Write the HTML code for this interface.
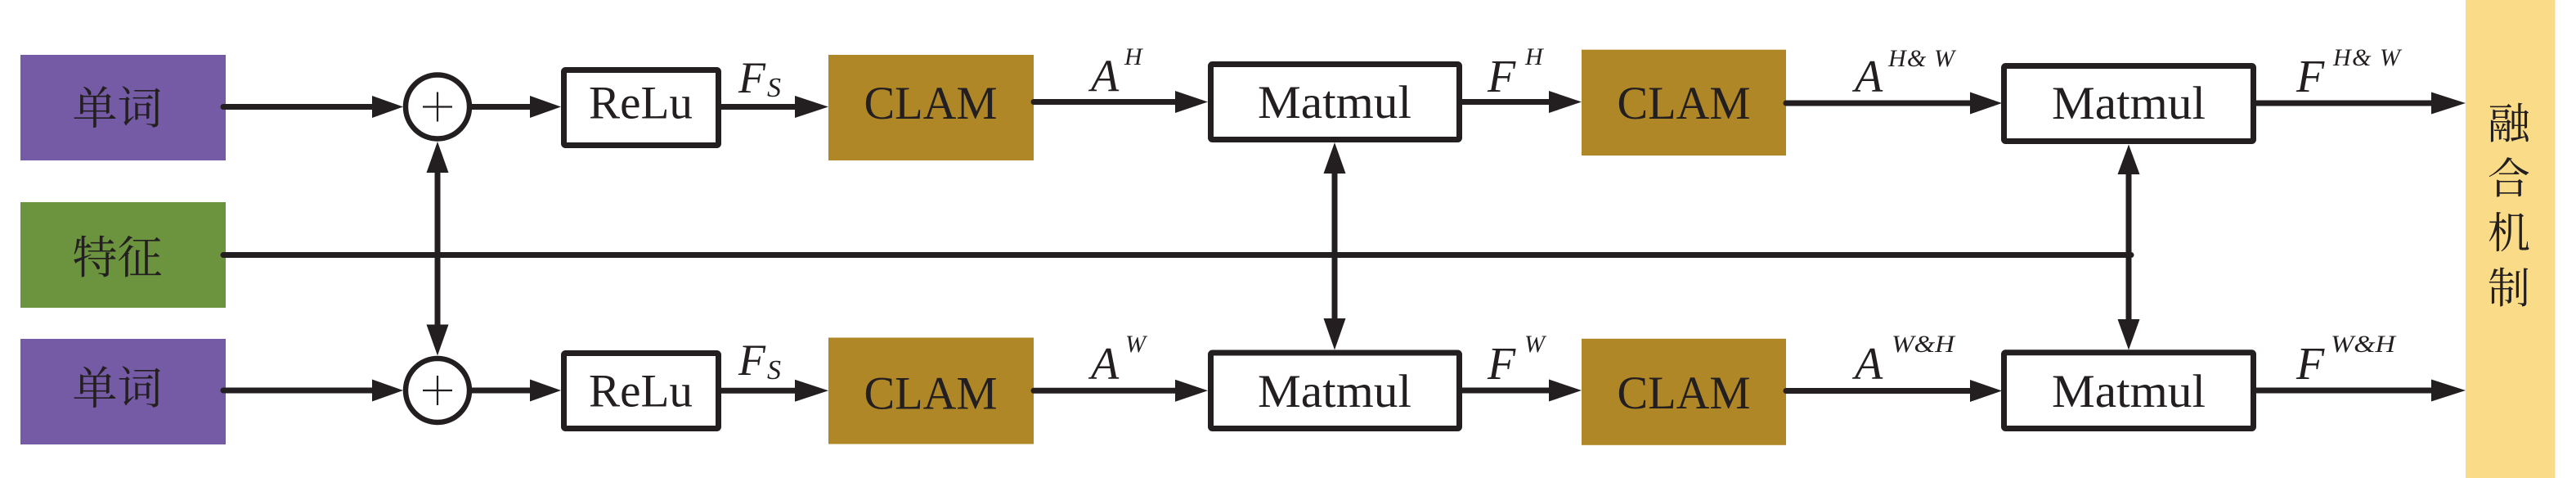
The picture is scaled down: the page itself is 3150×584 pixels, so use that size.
<!DOCTYPE html>
<html>
<head>
<meta charset="utf-8">
<style>
  html,body{margin:0;padding:0;background:#fff;}
  svg{display:block;}
  .cjk{font-family:"Liberation Serif","Noto Serif CJK SC","Noto Sans CJK SC",serif;fill:#231F20;}
  .rm{font-family:"Liberation Serif",serif;fill:#231F20;}
  .it{font-family:"Liberation Serif",serif;font-style:italic;fill:#231F20;}
</style>
</head>
<body>
<svg width="3150" height="584" viewBox="0 0 3150 584" xmlns="http://www.w3.org/2000/svg">
  <rect x="0" y="0" width="3150" height="584" fill="#fff"/>

  <!-- Left input boxes -->
  <rect x="25" y="67" width="251" height="129" fill="#755BA5"/>
  <rect x="25" y="247" width="251" height="129" fill="#6C943F"/>
  <rect x="25" y="414" width="251" height="129" fill="#755BA5"/>
  <text class="cjk" x="143.5" y="133" font-size="55" text-anchor="middle" dominant-baseline="central">单词</text>
  <text class="cjk" x="143.5" y="315.5" font-size="55" text-anchor="middle" dominant-baseline="central">特征</text>
  <text class="cjk" x="143.5" y="475" font-size="55" text-anchor="middle" dominant-baseline="central">单词</text>

  <!-- Fusion box -->
  <rect x="3015" y="0" width="109.5" height="584" fill="#FADB88"/>
  <g class="cjk" font-size="52" text-anchor="middle" dominant-baseline="central">
    <text x="3068" y="153">融</text>
    <text x="3068" y="220">合</text>
    <text x="3068" y="286.5">机</text>
    <text x="3068" y="354">制</text>
  </g>

  <!-- CLAM boxes -->
  <rect x="1013" y="67" width="251" height="129" fill="#B08727"/>
  <rect x="1013" y="412.5" width="251" height="130" fill="#B08727"/>
  <rect x="1934" y="60.7" width="250" height="129.3" fill="#B08727"/>
  <rect x="1934" y="413.8" width="250" height="130" fill="#B08727"/>
  <g class="rm" font-size="57" text-anchor="middle">
    <text x="1138" y="145" textLength="163" lengthAdjust="spacingAndGlyphs">CLAM</text>
    <text x="1138" y="499.5" textLength="163" lengthAdjust="spacingAndGlyphs">CLAM</text>
    <text x="2059" y="145" textLength="163" lengthAdjust="spacingAndGlyphs">CLAM</text>
    <text x="2059" y="499" textLength="163" lengthAdjust="spacingAndGlyphs">CLAM</text>
  </g>

  <!-- White boxes -->
  <g fill="#fff" stroke="#231F20" stroke-width="7">
    <rect x="689.5" y="85.5" width="189" height="92" rx="2"/>
    <rect x="689.5" y="431.5" width="189" height="92" rx="2"/>
    <rect x="1480.5" y="78.5" width="304" height="92" rx="2"/>
    <rect x="1480.5" y="431" width="304" height="92.5" rx="2"/>
    <rect x="2450.5" y="80.5" width="305" height="92" rx="2"/>
    <rect x="2450.5" y="430.8" width="305" height="92.7" rx="2"/>
  </g>
  <g class="rm" font-size="57" text-anchor="middle">
    <text x="783.5" y="144.5" textLength="127" lengthAdjust="spacingAndGlyphs">ReLu</text>
    <text x="783.5" y="496.5" textLength="127" lengthAdjust="spacingAndGlyphs">ReLu</text>
    <text x="1632" y="144" textLength="188" lengthAdjust="spacingAndGlyphs">Matmul</text>
    <text x="1632" y="497" textLength="188" lengthAdjust="spacingAndGlyphs">Matmul</text>
    <text x="2603" y="145" textLength="188" lengthAdjust="spacingAndGlyphs">Matmul</text>
    <text x="2603" y="497" textLength="188" lengthAdjust="spacingAndGlyphs">Matmul</text>
  </g>

  <!-- Sum circles -->
  <g fill="#fff" stroke="#231F20" stroke-width="6.5">
    <circle cx="535" cy="130.5" r="39"/>
    <circle cx="535" cy="477" r="39"/>
  </g>
  <g stroke="#231F20" stroke-width="2.2">
    <line x1="517" y1="130.5" x2="553" y2="130.5"/>
    <line x1="535" y1="112.5" x2="535" y2="148.5"/>
    <line x1="517" y1="477" x2="553" y2="477"/>
    <line x1="535" y1="459" x2="535" y2="495"/>
  </g>

  <!-- Connector lines -->
  <g stroke="#231F20" stroke-width="7" stroke-linecap="round" fill="none">
    <!-- top row -->
    <line x1="273" y1="130.5" x2="458" y2="130.5"/>
    <line x1="577" y1="130.5" x2="650" y2="130.5"/>
    <line x1="882" y1="130.5" x2="975" y2="130.5"/>
    <line x1="1264" y1="124.5" x2="1439" y2="124.5"/>
    <line x1="1787" y1="124.5" x2="1896" y2="124.5"/>
    <line x1="2184" y1="126" x2="2410" y2="126"/>
    <line x1="2759" y1="126" x2="2977" y2="126"/>
    <!-- bottom row -->
    <line x1="273" y1="477" x2="458" y2="477"/>
    <line x1="577" y1="477" x2="650" y2="477"/>
    <line x1="882" y1="477.3" x2="975" y2="477.3"/>
    <line x1="1264" y1="477.3" x2="1439" y2="477.3"/>
    <line x1="1787" y1="477" x2="1896" y2="477"/>
    <line x1="2184" y1="477.5" x2="2410" y2="477.5"/>
    <line x1="2759" y1="477" x2="2977" y2="477"/>
  </g>
  <g stroke="#231F20" stroke-width="7" fill="none">
    <!-- middle feature line -->
    <line x1="273" y1="311.5" x2="2606" y2="311.5" stroke-linecap="round"/>
    <!-- verticals -->
    <line x1="535" y1="208" x2="535" y2="399"/>
    <line x1="1632" y1="209" x2="1632" y2="392"/>
    <line x1="2603" y1="210" x2="2603" y2="393"/>
  </g>

  <!-- Arrowheads -->
  <g fill="#231F20">
    <!-- right-pointing, top row -->
    <polygon points="493,130.5 455,117 455,144"/>
    <polygon points="686,130.5 648,117 648,144"/>
    <polygon points="1013,130.5 972,117 972,144"/>
    <polygon points="1477,124.5 1437,111 1437,138"/>
    <polygon points="1934,124.5 1894,111 1894,138"/>
    <polygon points="2448,126 2409,112.5 2409,139.5"/>
    <polygon points="3015,126 2973,112.5 2973,139.5"/>
    <!-- right-pointing, bottom row -->
    <polygon points="493,477 455,463.5 455,490.5"/>
    <polygon points="686,477 648,463.5 648,490.5"/>
    <polygon points="1013,477.3 972,463.8 972,490.8"/>
    <polygon points="1477,477.3 1437,463.8 1437,490.8"/>
    <polygon points="1934,477 1894,463.5 1894,490.5"/>
    <polygon points="2448,477.5 2409,464 2409,491"/>
    <polygon points="3015,477 2973,463.5 2973,490.5"/>
    <!-- vertical arrowheads -->
    <polygon points="535,173 521.5,211 548.5,211"/>
    <polygon points="535,434.5 521.5,396.5 548.5,396.5"/>
    <polygon points="1632,174 1618.5,212 1645.5,212"/>
    <polygon points="1632,427.5 1618.5,389 1645.5,389"/>
    <polygon points="2603,176.5 2589.5,213 2616.5,213"/>
    <polygon points="2603,427.5 2589.5,390 2616.5,390"/>
  </g>

  <!-- Labels top row -->
  <text class="it" x="903" y="113" font-size="54">F</text>
  <text class="it" x="938" y="118" font-size="34">S</text>
  <text class="it" x="1334" y="111.5" font-size="56">A</text>
  <text class="it" x="1375" y="79" font-size="30">H</text>
  <text class="it" x="1819" y="112" font-size="56">F</text>
  <text class="it" x="1865" y="79" font-size="30">H</text>
  <text class="it" x="2268" y="112" font-size="56">A</text>
  <text class="it" x="2309" y="81" font-size="30" textLength="81" lengthAdjust="spacing">H&amp; W</text>
  <text class="it" x="2808" y="112" font-size="56">F</text>
  <text class="it" x="2853" y="80" font-size="30" textLength="82" lengthAdjust="spacing">H&amp; W</text>

  <!-- Labels bottom row -->
  <text class="it" x="903" y="458" font-size="54">F</text>
  <text class="it" x="938" y="463" font-size="34">S</text>
  <text class="it" x="1334" y="463" font-size="56">A</text>
  <text class="it" x="1376" y="430" font-size="30">W</text>
  <text class="it" x="1819" y="463" font-size="56">F</text>
  <text class="it" x="1864" y="430" font-size="30">W</text>
  <text class="it" x="2268" y="463" font-size="56">A</text>
  <text class="it" x="2313" y="430" font-size="30" textLength="77" lengthAdjust="spacingAndGlyphs">W&amp;H</text>
  <text class="it" x="2808" y="463" font-size="56">F</text>
  <text class="it" x="2850" y="430" font-size="30" textLength="79" lengthAdjust="spacingAndGlyphs">W&amp;H</text>
</svg>
</body>
</html>
